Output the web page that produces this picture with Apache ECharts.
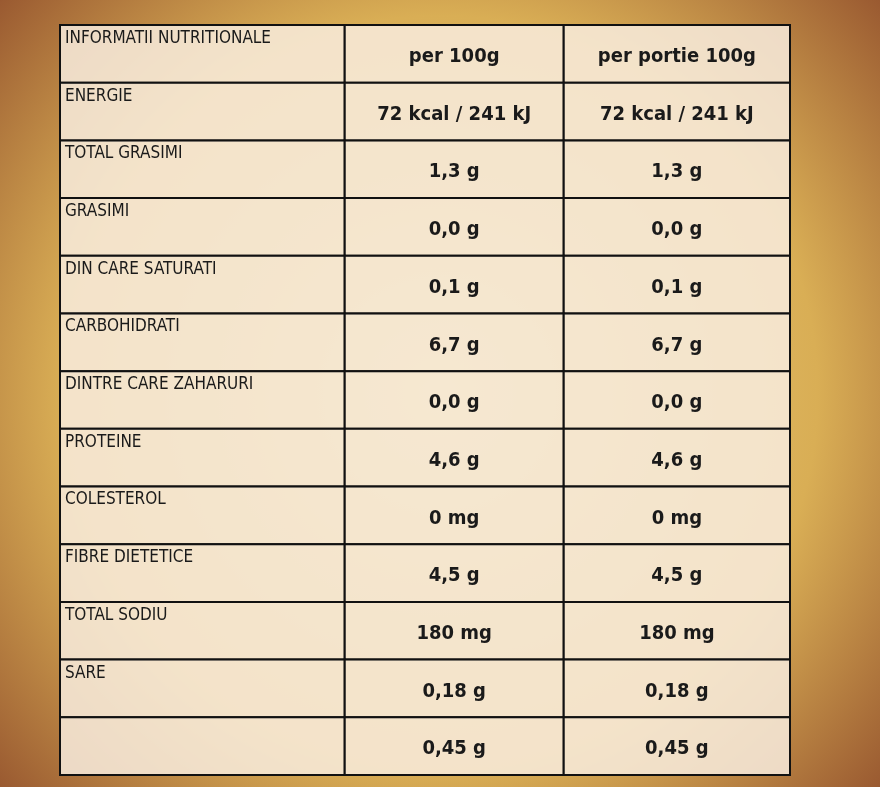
<!DOCTYPE html>
<html><head><meta charset="utf-8">
<script src="https://cdn.jsdelivr.net/npm/echarts@6/dist/echarts.min.js"></script>
<style>html,body{margin:0;padding:0}#c{width:880px;height:787px}</style>
</head><body><div id="c"></div>
<script>
const columns = ['INFORMATII NUTRITIONALE', 'per 100g', 'per portie 100g'];
const rowLabels = ['ENERGIE','TOTAL GRASIMI','GRASIMI','DIN CARE SATURATI','CARBOHIDRATI','DINTRE CARE ZAHARURI','PROTEINE','COLESTEROL','FIBRE DIETETICE','TOTAL SODIU','SARE',''];
const per100g = ['72 kcal / 241 kJ','1,3 g','0,0 g','0,1 g','6,7 g','0,0 g','4,6 g','0 mg','4,5 g','180 mg','0,18 g','0,45 g'];
const perPortie = ['72 kcal / 241 kJ','1,3 g','0,0 g','0,1 g','6,7 g','0,0 g','4,6 g','0 mg','4,5 g','180 mg','0,18 g','0,45 g'];
const colEdges = [0, 39, 69, 100];

const rows = ['header'].concat(rowLabels.map((_, i) => 'r' + i));
const cells = [];
columns.forEach((t, c) => cells.push([c, 0, t]));
rowLabels.forEach((t, i) => {
  cells.push([0, i + 1, t]);
  cells.push([1, i + 1, per100g[i]]);
  cells.push([2, i + 1, perPortie[i]]);
});

const chart = echarts.init(document.getElementById('c'));
chart.setOption({
  backgroundColor: new echarts.graphic.RadialGradient(0.5, 0.5, 0.8, [
    {offset: 0, color: '#e8cf86'}, {offset: 0.6, color: '#d9ae55'}, {offset: 1, color: '#8e4a2a'}]),
  grid: {left: 60, right: 90, top: 25, bottom: 12},
  xAxis: {type: 'value', min: 0, max: 100, show: false},
  yAxis: {type: 'category', data: rows, inverse: true, show: false},
  series: [{
    type: 'custom',
    data: cells,
    encode: {x: -1, y: 1},
    renderItem(params, api) {
      const c = api.value(0), r = api.value(1), txt = cells[params.dataIndex][2];
      const x0 = api.coord([colEdges[c], r]), x1 = api.coord([colEdges[c + 1], r]);
      const h = api.size([0, 1])[1];
      const x = x0[0], w = x1[0] - x0[0], y = x0[1] - h / 2;
      const isLabel = c === 0;
      return {
        type: 'group',
        children: [
          {type: 'rect', shape: {x, y, width: w, height: h},
           style: {fill: 'rgba(248,236,222,0.85)', stroke: '#111', lineWidth: 2}},
          {type: 'text',
           style: {
             text: txt,
             x: isLabel ? x + 5 : x + w / 2,
             y: isLabel ? y + 5 : y + h / 2 + 3,
             align: isLabel ? 'left' : 'center',
             verticalAlign: isLabel ? 'top' : 'middle',
             fontFamily: 'DejaVu Sans Condensed, DejaVu Sans',
             fontWeight: isLabel ? 'normal' : 'bold',
             fontSize: isLabel ? 17 : 20,
             fill: '#1a1a1a'
           }}
        ]
      };
    }
  }]
});
</script></body></html>
